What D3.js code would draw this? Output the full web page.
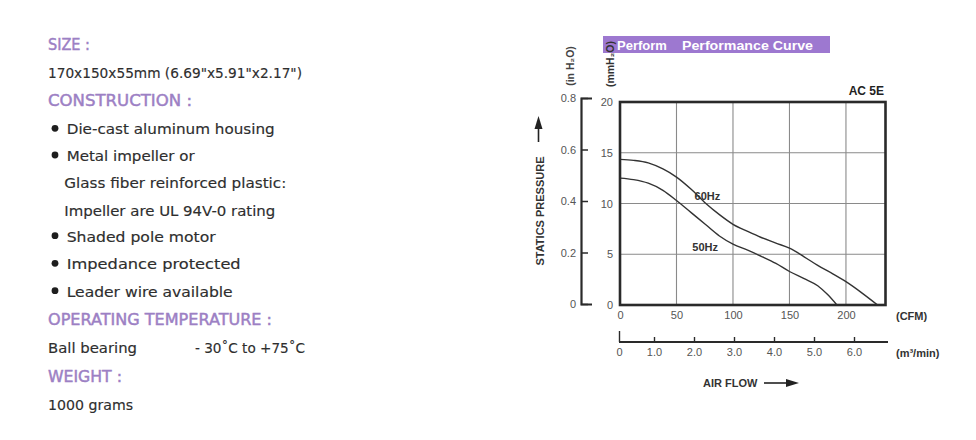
<!DOCTYPE html>
<html><head><meta charset="utf-8">
<script src="https://cdn.jsdelivr.net/npm/d3@7"></script>
<style>
html,body{margin:0;padding:0;background:#fff;}
svg{display:block;}
</style></head>
<body><svg id="c" width="976" height="440"></svg>
<script>
// ---------- data ----------
const specHeadings = ["SIZE :", "CONSTRUCTION :", "OPERATING TEMPERATURE :", "WEIGHT :"];
const specBody = [
  {t:"170x150x55mm (6.69\"x5.91\"x2.17\")", bullet:false, indent:0},
  {t:"Die-cast aluminum housing", bullet:true, indent:1},
  {t:"Metal impeller or", bullet:true, indent:1},
  {t:"Glass fiber reinforced plastic:", bullet:false, indent:1},
  {t:"Impeller are UL 94V-0 rating", bullet:false, indent:1},
  {t:"Shaded pole motor", bullet:true, indent:1},
  {t:"Impedance protected", bullet:true, indent:1},
  {t:"Leader wire available", bullet:true, indent:1},
  {t:"Ball bearing", bullet:false, indent:0},
  {t:"1000 grams", bullet:false, indent:0}
];
const tempRange = "- 30˚C to +75˚C";

const cfm60 = [0, 12, 25, 38, 50, 63, 76, 88, 100, 113, 125, 138, 150, 163, 175, 188, 200, 214, 228];
const p60   = [14.35, 14.25, 14.0, 13.4, 12.6, 11.4, 10.0, 8.9, 7.95, 7.25, 6.65, 6.1, 5.6, 4.75, 3.9, 3.1, 2.3, 1.2, 0];
const cfm50 = [0, 12, 25, 38, 50, 63, 76, 88, 100, 113, 125, 138, 150, 163, 175, 184, 192];
const p50   = [12.5, 12.35, 12.0, 11.3, 10.3, 9.1, 7.9, 6.8, 6.0, 5.4, 4.8, 4.1, 3.3, 2.6, 1.9, 1.0, 0];

const cfmTicks = [0, 50, 100, 150, 200];
const mmTicks = [0, 5, 10, 15, 20];
const inTicks = [0, 0.2, 0.4, 0.6, 0.8];
const inLabels = ["0", "0.2", "0.4", "0.6", "0.8"];
const m3Ticks = [0, 1, 2, 3, 4, 5, 6];
const m3Labels = ["0", "1.0", "2.0", "3.0", "4.0", "5.0", "6.0"];
const m3Max = 6.85;
const cfmMax = 235;
const mmMax = 20;
const seriesLabels = ["60Hz", "50Hz"];

// ---------- layout ----------
const svg = d3.select("#c");
const purple = "#9c80c4";
const bodyCol = "#2e2e2e";

// left spec text
const headY = [45, 100.7, 320, 376.7];
const headW = [42, 144, 224, 74];
const bodyY = [72.7, 129.3, 156, 183.3, 210.7, 236.7, 264.3, 291.7, 348.3, 405];
const bodyW = [254, 208, 128, 222, 211, 149, 174, 166, 89, 85];
const left = svg.append("g").attr("font-family", "'DejaVu Sans', sans-serif");
left.selectAll("text.h").data(specHeadings).join("text")
  .attr("class","h").attr("x", 48).attr("y", (d,i)=>headY[i])
  .attr("dominant-baseline","central").attr("font-size", 15).attr("fill", purple)
  .attr("stroke", purple).attr("stroke-width", 0.45)
  .attr("textLength",(d,i)=>headW[i]).attr("lengthAdjust","spacingAndGlyphs")
  .text(d=>d);
left.selectAll("text.b").data(specBody).join("text")
  .attr("class","b").attr("x", d=> d.indent ? (d.bullet ? 66.7 : 64.3) : 48)
  .attr("y", (d,i)=>bodyY[i])
  .attr("dominant-baseline","central").attr("font-size", 14).attr("fill", bodyCol)
  .attr("stroke", bodyCol).attr("stroke-width", 0.15)
  .attr("textLength",(d,i)=>bodyW[i]).attr("lengthAdjust","spacingAndGlyphs")
  .text(d=>d.t);
left.selectAll("circle").data(specBody.map((d,i)=>({d,i})).filter(o=>o.d.bullet)).join("circle")
  .attr("cx", 55).attr("cy", o=>bodyY[o.i]-1).attr("r", 3.4).attr("fill", "#1e1e1e");
left.append("text").attr("x",195).attr("y",348.3).attr("dominant-baseline","central")
  .attr("font-size",14).attr("fill",bodyCol).attr("stroke",bodyCol).attr("stroke-width",0.15)
  .attr("textLength",110).attr("lengthAdjust","spacingAndGlyphs")
  .text(tempRange);

// ---------- chart ----------
const x = d3.scaleLinear().domain([0, cfmMax]).range([620, 885.5]);
const y = d3.scaleLinear().domain([0, mmMax]).range([305, 102]);
const yIn = d3.scaleLinear().domain([0, 0.8]).range([304, 98]);
const xm3 = d3.scaleLinear().domain([0, 1, 6]).range([619, 654, 854]);

const ch = svg.append("g").attr("font-family","'Liberation Sans', Arial, sans-serif");

// gridlines
ch.append("g").selectAll("line.v").data(cfmTicks.filter(d=>d>0)).join("line")
  .attr("x1", d=>x(d)).attr("x2", d=>x(d)).attr("y1", y(mmMax)).attr("y2", y(0))
  .attr("stroke","#8a8a8a").attr("stroke-width",1.1);
ch.append("g").selectAll("line.h").data(mmTicks.filter(d=>d>0 && d<mmMax)).join("line")
  .attr("y1", d=>y(d)).attr("y2", d=>y(d)).attr("x1", x(0)).attr("x2", x(cfmMax))
  .attr("stroke","#8a8a8a").attr("stroke-width",1.1);

// curves
const line = d3.line().x(d=>x(d[0])).y(d=>y(d[1])).curve(d3.curveMonotoneX);
ch.append("path").datum(cfm60.map((c,i)=>[c,p60[i]])).attr("d", line)
  .attr("fill","none").attr("stroke","#333").attr("stroke-width",1.4);
ch.append("path").datum(cfm50.map((c,i)=>[c,p50[i]])).attr("d", line)
  .attr("fill","none").attr("stroke","#333").attr("stroke-width",1.4);
ch.append("text").attr("x", x(66)).attr("y", y(10.7)).attr("dominant-baseline","central")
  .attr("font-size",11).attr("font-weight","bold").attr("fill","#333").text(seriesLabels[0]);
ch.append("text").attr("x", x(64)).attr("y", y(5.7)).attr("dominant-baseline","central")
  .attr("font-size",11).attr("font-weight","bold").attr("fill","#333").text(seriesLabels[1]);

// frame
ch.append("rect").attr("x", x(0)).attr("y", y(mmMax)).attr("width", x(cfmMax)-x(0)).attr("height", y(0)-y(mmMax))
  .attr("fill","none").attr("stroke","#2a2a2a").attr("stroke-width",2.6);

// CFM axis labels
const axB = ch.append("g").attr("transform",`translate(0,${y(0)})`)
  .call(d3.axisBottom(x).tickValues(cfmTicks).tickSize(0).tickPadding(6));
axB.select(".domain").remove();
axB.selectAll("text").attr("font-size",11).attr("fill","#555").attr("font-family","'Liberation Sans', Arial, sans-serif");
ch.append("text").attr("x",896).attr("y",316).attr("dominant-baseline","central")
  .attr("font-size",11).attr("font-weight","bold").attr("fill","#333").text("(CFM)");

// mmH2O axis labels
const axL = ch.append("g").attr("transform",`translate(${x(0)},0)`)
  .call(d3.axisLeft(y).tickValues(mmTicks).tickSize(0).tickPadding(7));
axL.select(".domain").remove();
axL.selectAll("text").attr("font-size",11).attr("fill","#555").attr("font-family","'Liberation Sans', Arial, sans-serif");

// in H2O axis
const axIn = ch.append("g").attr("transform","translate(581,0)")
  .call(d3.axisLeft(yIn).tickValues(inTicks).tickFormat((d,i)=>inLabels[i]).tickSize(-7).tickSizeOuter(-11).tickPadding(5));
axIn.select(".domain").attr("stroke","#2a2a2a").attr("stroke-width",2.2).attr("fill","none");
axIn.selectAll(".tick line").attr("stroke","#2a2a2a").attr("stroke-width",1.5);
axIn.selectAll("text").attr("font-size",11).attr("fill","#555").attr("font-family","'Liberation Sans', Arial, sans-serif");

// m3/min axis
const m3y = 342;
const axM = ch.append("g").attr("transform",`translate(0,${m3y})`)
  .call(d3.axisBottom(xm3).tickValues(m3Ticks).tickFormat((d,i)=>m3Labels[i]).tickSize(-5).tickPadding(6));
axM.select(".domain").remove();
axM.append("line").attr("x1", xm3(0)).attr("x2", xm3(m3Max)).attr("y1",0).attr("y2",0)
  .attr("stroke","#2a2a2a").attr("stroke-width",2);
axM.selectAll(".tick line").attr("stroke","#2a2a2a").attr("stroke-width",1.4)
  .attr("y2", d=> d===0 ? -11 : -5);
axM.selectAll("text").attr("font-size",11).attr("fill","#555").attr("font-family","'Liberation Sans', Arial, sans-serif");
ch.append("text").attr("x",896).attr("y",353).attr("dominant-baseline","central")
  .attr("font-size",11).attr("font-weight","bold").attr("fill","#333").text("(m³/min)");

// AIR FLOW label + arrow
ch.append("text").attr("x",703).attr("y",383).attr("dominant-baseline","central")
  .attr("font-size",11).attr("font-weight","bold").attr("fill","#333").text("AIR FLOW");
ch.append("line").attr("x1",764).attr("x2",788).attr("y1",383).attr("y2",383).attr("stroke","#222").attr("stroke-width",1.6);
ch.append("path").attr("d","M786,379 L799,383 L786,387 Z").attr("fill","#222");

// STATICS PRESSURE + arrow
ch.append("text").attr("transform","translate(540,211) rotate(-90)").attr("text-anchor","middle")
  .attr("dominant-baseline","central").attr("font-size",11).attr("font-weight","bold").attr("fill","#333")
  .text("STATICS PRESSURE");
ch.append("line").attr("x1",538.5).attr("x2",538.5).attr("y1",142).attr("y2",126).attr("stroke","#222").attr("stroke-width",1.6);
ch.append("path").attr("d","M534.5,129 L538.5,116 L542.5,129 Z").attr("fill","#222");

// title box
ch.append("rect").attr("x",603).attr("y",36).attr("width",227).attr("height",17).attr("fill","#9d78d0");
ch.append("text").attr("x",617).attr("y",45).attr("dominant-baseline","central")
  .attr("font-size",13).attr("font-weight","bold").attr("fill","#fff")
  .text("Perform");
ch.append("text").attr("x",682).attr("y",45).attr("dominant-baseline","central")
  .attr("font-size",13).attr("font-weight","bold").attr("fill","#fff")
  .attr("textLength",131).attr("lengthAdjust","spacingAndGlyphs")
  .text("Performance Curve");

// unit labels
ch.append("text").attr("transform","translate(570,66) rotate(-90)").attr("text-anchor","middle")
  .attr("dominant-baseline","central").attr("font-size",10.5).attr("font-weight","bold").attr("fill","#444")
  .text("(in H₂O)");
ch.append("text").attr("transform","translate(609.5,64) rotate(-90)").attr("text-anchor","middle")
  .attr("dominant-baseline","central").attr("font-size",10.5).attr("font-weight","bold").attr("fill","#333")
  .text("(mmH₂O)");

// model label
ch.append("text").attr("x",884).attr("y",91).attr("text-anchor","end").attr("dominant-baseline","central")
  .attr("font-size",12).attr("font-weight","bold").attr("fill","#222").text("AC 5E");
</script></body></html>
